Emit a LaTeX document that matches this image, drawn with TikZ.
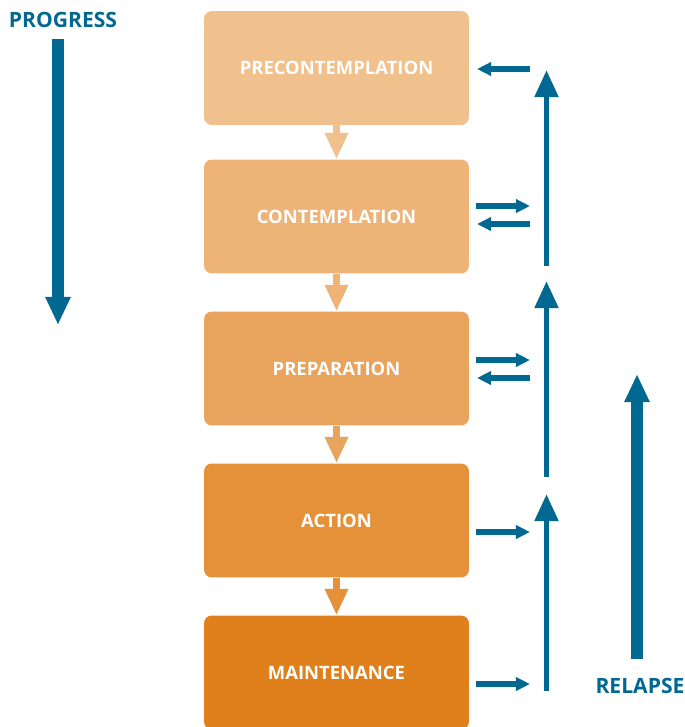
\documentclass[tikz,border=0pt]{standalone}
\usepackage{fontspec}
\setmainfont{Open Sans}
\usetikzlibrary{arrows.meta}

\definecolor{relblue}{RGB}{0,104,145}
\definecolor{stageA}{RGB}{240,192,141}
\definecolor{stageB}{RGB}{237,179,119}
\definecolor{stageC}{RGB}{232,164,92}
\definecolor{stageD}{RGB}{228,145,58}
\definecolor{stageE}{RGB}{223,128,28}

\tikzset{
  stage/.style={rectangle, rounded corners=4.5pt, minimum width=5.3cm,
    minimum height=2.28cm, text=white, font=\bfseries\fontsize{10.5}{12}\selectfont},
  nextstage/.style={line width=4.2pt, -{Triangle[width=12.5pt,length=15pt]}},
  sidearrow/.style={relblue, line width=3pt, -{Triangle[width=7.4pt,length=8pt]}},
  uparrow/.style={relblue, line width=3.4pt, -{Triangle[width=13pt,length=15.5pt]}},
  bigarrow/.style={relblue, line width=6.6pt, -{Triangle[width=13.4pt,length=16pt]}},
  bigtext/.style={text=relblue, font=\bfseries\fontsize{12}{14}\selectfont}
}

\begin{document}
\begin{tikzpicture}[x=0.02cm,y=-0.02cm]
  \useasboundingbox (0,0) rectangle (685,727);
  % the five stages
  \node[stage, fill=stageA] (pre) at (336.5,68) {PRECONTEMPLATION};
  \node[stage, fill=stageB] (con) at (336.5,216.5) {CONTEMPLATION};
  \node[stage, fill=stageC] (prep) at (336.5,368.5) {PREPARATION};
  \node[stage, fill=stageD] (act) at (336.5,520.5) {ACTION};
  \node[stage, fill=stageE] (main) at (336.5,672.5) {MAINTENANCE};
  % arrows from stage to stage
  \draw[nextstage, stageA] (pre.south) -- (con.north);
  \draw[nextstage, stageB] (con.south) -- (prep.north);
  \draw[nextstage, stageC] (prep.south) -- (act.north);
  \draw[nextstage, stageD] (act.south) -- (main.north);
  % progress
  \node[bigtext] (prog) at (63,20) {PROGRESS};
  \coordinate (progtop) at (58,39);
  \coordinate (progtip) at (58,325);
  \draw[bigarrow] (progtop) -- (progtip);
  % relapse
  \node[bigtext] (rel) at (640,686) {RELAPSE};
  \coordinate (relbot) at (637,659);
  \coordinate (reltip) at (637,374);
  \draw[bigarrow] (relbot) -- (reltip);
  % small arrows beside the stages
  \coordinate (in1) at (477,69);  \coordinate (out1) at (530,69);
  \coordinate (in2) at (476,206); \coordinate (out2) at (530,206);
  \coordinate (in3) at (477,224); \coordinate (out3) at (530,224);
  \coordinate (in4) at (476,360); \coordinate (out4) at (530,360);
  \coordinate (in5) at (477,378); \coordinate (out5) at (530,378);
  \coordinate (in6) at (476,532); \coordinate (out6) at (530,532);
  \coordinate (in7) at (476,684); \coordinate (out7) at (530,684);
  \draw[sidearrow] (out1) -- (in1);
  \draw[sidearrow] (in2) -- (out2);
  \draw[sidearrow] (out3) -- (in3);
  \draw[sidearrow] (in4) -- (out4);
  \draw[sidearrow] (out5) -- (in5);
  \draw[sidearrow] (in6) -- (out6);
  \draw[sidearrow] (in7) -- (out7);
  % the ladder of upward arrows
  \coordinate (up1b) at (546.5,266); \coordinate (up1t) at (546.5,70);
  \coordinate (up2b) at (546.5,477); \coordinate (up2t) at (546.5,281);
  \coordinate (up3b) at (546.5,691); \coordinate (up3t) at (546.5,494);
  \draw[uparrow] (up1b) -- (up1t);
  \draw[uparrow] (up2b) -- (up2t);
  \draw[uparrow] (up3b) -- (up3t);
\end{tikzpicture}
\end{document}
